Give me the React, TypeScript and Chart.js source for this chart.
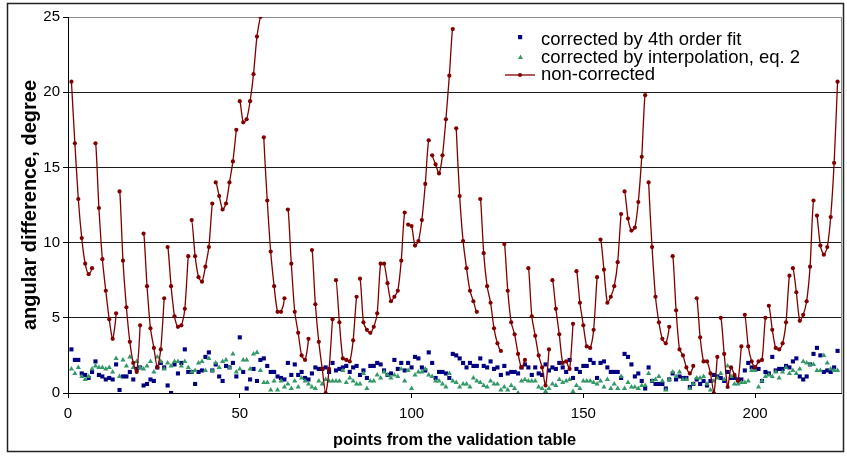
import React, { useEffect, useRef } from "react";
import { Chart, registerables } from "chart.js";

Chart.register(...registerables);

const FONT = "'Liberation Sans', Arial, sans-serif";
const RED = "#800000";
const BLUE = "#000080";
const GREEN = "#339966";

// points are measured in sweeps of 7; the non-corrected line is broken between sweeps
const SWEEP_SIZE = 7;

const seriesLabels = [
  "corrected by 4th order fit",
  "corrected by interpolation, eq. 2",
  "non-corrected",
];

const xTickValues = [0, 50, 100, 150, 200];
const yTickValues = [0, 5, 10, 15, 20, 25];

const nonCorrected = [
  20.7, 16.6, 12.9, 10.3, 8.6, 7.9, 8.3,
  16.6, 12.3, 8.9, 6.8, 4.9, 3.6, 5.3,
  13.4, 8.8, 5.7, 3.4, 2.0, 1.4, 4.5,
  10.6, 7.1, 4.3, 3.0, 1.7, 2.9, 6.3,
  9.7, 7.1, 5.1, 4.4, 4.5, 5.6, 9.1,
  11.5, 9.1, 7.7, 7.4, 8.4, 9.7, 12.6,
  14.0, 13.1, 12.2, 12.6, 14.0, 15.4, 17.5,
  19.4, 18.0, 18.2, 19.4, 21.2, 23.7, 25.0,
  17.0, 12.8, 9.4, 7.1, 5.4, 5.4, 6.3,
  12.2, 8.6, 5.4, 4.0, 2.5, 2.2, 3.6,
  9.5, 5.9, 3.4, 1.6, 0.0, 1.6, 4.9,
  7.5, 4.7, 2.3, 2.2, 2.1, 3.5, 6.4,
  7.6, 4.7, 4.2, 4.0, 4.4, 5.3, 8.6,
  8.6, 7.3, 6.1, 6.4, 6.8, 8.8, 12.0,
  11.2, 11.1, 9.8, 10.1, 11.5, 13.9, 16.8,
  15.8, 15.2, 14.6, 15.8, 18.2, 21.1, 24.2,
  17.6, 13.1, 10.1, 8.3, 6.8, 6.1, 5.4,
  12.9, 9.3, 7.1, 6.0, 4.3, 3.3, 2.8,
  9.9, 6.8, 4.7, 3.9, 2.6, 1.7, 2.2,
  8.3, 5.1, 3.8, 2.5, 1.7, 0.5, 2.9,
  7.5, 5.6, 3.9, 2.0, 2.1, 1.6, 4.6,
  8.1, 6.0, 4.5, 3.1, 3.0, 4.2, 7.7,
  10.2, 8.2, 6.0, 6.4, 7.1, 8.7, 11.9,
  13.4, 11.6, 10.8, 11.0, 12.7, 15.7, 19.8,
  14.0, 9.7, 6.4, 4.7, 3.6, 3.3, 4.4,
  9.1, 5.5, 2.9, 2.5, 1.7, 1.3, 1.8,
  6.3, 3.7, 2.1, 2.1, 1.3, 0.0, 2.4,
  5.0, 2.6, 0.4, 1.7, 1.2, 0.8, 3.1,
  5.2, 3.1, 2.1, 1.7, 2.1, 2.2, 5.0,
  5.8, 4.2, 3.0, 2.9, 3.3, 4.7, 7.8,
  8.3, 6.7, 4.8, 5.2, 6.1, 8.4, 12.8,
  11.8, 9.8, 9.2, 9.7, 11.7, 15.3, 20.7,
];

const fourthOrderFit = [
  2.9, 2.2, 2.2, 1.3, 1.2, 1.0, 1.4, 2.1, 1.2, 1.1,
  0.9, 1.0, 0.9, 1.9, 0.2, 1.1, 1.1, 1.4, 0.9, 1.6,
  1.7, 0.5, 0.6, 0.9, 0.8, 1.7, 2.0, 1.7, 0.5, 0.0,
  1.9, 1.3, 2.0, 2.9, 1.4, 1.4, 0.6, 1.4, 1.5, 2.4,
  2.7, 1.5, 1.9, 1.1, 0.8, 1.8, 1.7, 2.0, 1.1, 3.7,
  1.4, 0.3, 0.9, 1.6, 0.8, 2.2, 2.3, 1.8, 1.4, 1.4,
  1.1, 1.0, 0.9, 2.0, 1.2, 1.9, 1.2, 1.4, 1.0, 0.9,
  1.3, 1.7, 1.6, 1.6, 1.7, 1.4, 2.0, 1.5, 1.6, 1.7,
  1.8, 1.4, 1.7, 1.8, 1.2, 1.5, 1.0, 1.8, 1.8, 2.0,
  1.9, 1.5, 1.2, 1.3, 2.2, 1.6, 2.0, 1.5, 2.0, 1.7,
  2.4, 2.3, 1.7, 1.5, 2.7, 2.0, 1.0, 1.4, 1.4, 1.3,
  1.0, 2.6, 2.5, 2.3, 2.0, 1.7, 2.0, 1.8, 1.8, 2.3,
  1.8, 1.7, 2.1, 1.6, 1.7, 1.2, 1.8, 1.3, 1.4, 1.4,
  1.3, 1.7, 1.9, 1.7, 1.2, 1.7, 1.3, 1.2, 1.9, 1.5,
  1.7, 1.6, 2.0, 1.7, 1.4, 2.2, 1.0, 1.6, 1.4, 1.8,
  1.8, 2.2, 2.0, 1.0, 2.0, 2.1, 1.7, 1.4, 1.4, 1.4,
  1.0, 2.6, 2.4, 1.9, 1.1, 1.3, 0.8, 0.3, 1.7, 0.8,
  0.6, 0.6, 0.6, 0.3, 0.9, 1.3, 0.9, 1.1, 1.0, 1.0,
  0.4, 0.6, 0.9, 0.6, 0.8, 0.5, 0.8, 1.2, 1.1, 1.0,
  0.8, 1.4, 1.0, 1.0, 0.9, 0.9, 1.5, 2.0, 1.7, 1.7,
  1.6, 0.8, 1.4, 1.3, 2.4, 1.5, 1.6, 1.6, 1.8, 1.7,
  2.1, 2.3, 1.1, 0.9, 1.1, 1.9, 2.6, 3.0, 2.5, 1.4,
  1.5, 1.4, 1.7, 2.8,
];

const interpolation = [
  1.6, 1.3, 1.7, 1.1, 0.9, 1.1, 1.6, 1.8, 1.7, 1.7,
  1.6, 1.7, 1.4, 2.3, 1.1, 2.2, 1.8, 2.4, 1.7, 2.1,
  1.7, 1.6, 1.8, 2.1, 1.4, 2.4, 2.1, 1.6, 2.0, 1.8,
  2.1, 2.1, 1.8, 2.1, 1.7, 1.4, 1.5, 2.0, 2.1, 1.5,
  2.3, 1.5, 2.0, 1.7, 2.1, 2.2, 1.7, 2.6, 1.4, 1.6,
  2.2, 2.2, 1.6, 2.6, 2.7, 1.5, 0.7, 0.7, 0.2, 0.8,
  0.2, 0.8, 0.4, 0.6, 0.3, 0.8, 0.4, 1.0, 0.8, 0.6,
  0.4, 0.3, 0.8, 0.6, 0.9, 0.8, 0.8, 0.8, 0.8, 1.5,
  0.7, 1.0, 0.8, 0.6, 0.6, 1.3, 0.3, 0.8, 0.8, 1.2,
  1.0, 1.4, 1.2, 1.0, 1.2, 1.1, 1.6, 0.8, 1.5, 0.3,
  1.2, 1.4, 1.4, 1.6, 1.2, 1.1, 0.8, 0.8, 0.6, 0.4,
  1.3, 0.8, 0.7, 0.4, 0.6, 0.6, 0.4, 1.0, 0.8, 0.7,
  0.5, 0.4, 0.8, 0.6, 0.6, 0.2, 0.4, 0.2, 0.5, 0.3,
  0.0, 0.8, 0.9, 0.8, 0.8, 0.8, 0.4, 0.3, 0.1, 0.3,
  0.6, 0.5, 0.9, 0.7, 0.8, 0.9, 0.1, 0.5, 0.3, 0.8,
  0.8, 0.8, 0.7, 0.6, 0.8, 0.4, 0.9, 0.3, 0.6, 0.3,
  1.1, 0.3, 0.7, 0.4, 0.4, 0.3, 0.5, 0.5, 1.3, 0.8,
  0.9, 1.1, 0.8, 0.2, 0.9, 1.4, 1.1, 1.4, 0.9, 0.9,
  0.3, 0.6, 1.0, 1.0, 1.1, 0.6, 0.2, 0.8, 1.0, 1.3,
  0.9, 1.8, 1.1, 0.6, 0.6, 0.7, 0.7, 0.8, 1.5, 1.5,
  0.4, 0.8, 1.1, 1.2, 1.1, 1.4, 1.0, 1.4, 1.7, 1.3,
  1.5, 1.3, 1.6, 2.1, 2.0, 1.9, 1.9, 1.5, 1.5, 2.5,
  2.0, 1.6, 1.5, 1.5,
];

// validation table point numbers: 1, 2, 3, ...
const toPoints = (values: number[]) => values.map((y, i) => ({ x: i + 1, y }));

const decorPlugin = {
  id: "decor",
  afterDraw(chart: any) {
    const { ctx, chartArea: a } = chart;
    ctx.save();
    // plot-area right border
    ctx.strokeStyle = "#8c8c8c";
    ctx.lineWidth = 1;
    ctx.beginPath();
    ctx.moveTo(Math.round(a.right) + 0.5, a.top);
    ctx.lineTo(Math.round(a.right) + 0.5, a.bottom);
    ctx.stroke();

    // outer chart frame
    ctx.strokeStyle = "#222";
    ctx.lineWidth = 1.5;
    ctx.strokeRect(7.5, 3.5, 836, 448);

    // legend
    const mx = 520;
    const tx = 541;
    const textRows = [39.5, 57.5, 75];
    const markRows = [37, 57, 75];
    ctx.font = `18.5px ${FONT}`;
    ctx.textBaseline = "middle";
    ctx.textAlign = "left";
    // blue square
    ctx.fillStyle = BLUE;
    ctx.fillRect(mx - 2, markRows[0] - 2, 4.2, 4.2);
    // green triangle
    ctx.fillStyle = GREEN;
    ctx.beginPath();
    ctx.moveTo(mx + 0.5, markRows[1] - 2.5);
    ctx.lineTo(mx + 3, markRows[1] + 2);
    ctx.lineTo(mx - 2, markRows[1] + 2);
    ctx.closePath();
    ctx.fill();
    // red line with dot
    ctx.strokeStyle = RED;
    ctx.lineWidth = 1.3;
    ctx.beginPath();
    ctx.moveTo(505, markRows[2]);
    ctx.lineTo(535, markRows[2]);
    ctx.stroke();
    ctx.fillStyle = RED;
    ctx.beginPath();
    ctx.arc(mx, markRows[2], 2.1, 0, Math.PI * 2);
    ctx.fill();

    ctx.fillStyle = "#000";
    seriesLabels.forEach((t, i) => ctx.fillText(t, tx, textRows[i]));
    ctx.restore();
  },
};

export default function App() {
  const ref = useRef<HTMLCanvasElement | null>(null);

  useEffect(() => {
    if (!ref.current) return;
    const chart = new Chart(ref.current, {
      type: "scatter",
      data: {
        datasets: [
          {
            label: seriesLabels[2],
            data: toPoints(nonCorrected),
            showLine: true,
            borderColor: RED,
            backgroundColor: RED,
            borderWidth: 1.3,
            tension: 0.25,
            pointRadius: 2.1,
            pointBorderWidth: 0,
            pointBackgroundColor: RED,
            order: 0,
            segment: {
              borderColor: (ctx: any) =>
                ctx.p1DataIndex % SWEEP_SIZE === 0 ? "rgba(0,0,0,0)" : RED,
            },
          } as any,
          {
            label: seriesLabels[1],
            data: toPoints(interpolation),
            pointStyle: "triangle",
            pointRadius: 3,
            pointBorderWidth: 0,
            pointBackgroundColor: GREEN,
            borderColor: GREEN,
            backgroundColor: GREEN,
            order: 1,
          },
          {
            label: seriesLabels[0],
            data: toPoints(fourthOrderFit),
            pointStyle: "rect",
            pointRadius: 2.9,
            pointBorderWidth: 0,
            pointBackgroundColor: BLUE,
            borderColor: BLUE,
            backgroundColor: BLUE,
            order: 2,
          },
        ],
      },
      options: {
        responsive: false,
        animation: false,
        events: [],
        layout: { padding: { left: 8, right: 6, top: 17, bottom: 0 } },
        plugins: {
          legend: { display: false },
          tooltip: { enabled: false },
        },
        scales: {
          x: {
            type: "linear",
            min: 0,
            max: 225,
            afterFit: (s: any) => {
              s.height = 65;
            },
            afterBuildTicks: (s: any) => {
              s.ticks = xTickValues.map((v) => ({ value: v }));
            },
            ticks: {
              stepSize: 50,
              includeBounds: false,
              color: "#000",
              maxRotation: 0,
              padding: 7,
              font: { family: FONT, size: 15 },
            },
            grid: {
              drawOnChartArea: false,
              drawTicks: true,
              tickLength: 5,
              tickColor: "#000",
              color: "#000",
            },
            border: { color: "#000", width: 1 },
            title: {
              display: true,
              text: "points from the validation table",
              color: "#000",
              font: { family: FONT, size: 16.4, weight: "bold" },
              padding: { top: 0, bottom: 8 },
            },
          },
          y: {
            min: 0,
            max: 25,
            afterFit: (s: any) => {
              s.width = 60;
            },
            afterBuildTicks: (s: any) => {
              s.ticks = yTickValues.map((v) => ({ value: v }));
            },
            ticks: {
              stepSize: 5,
              color: "#000",
              padding: 3,
              font: { family: FONT, size: 15 },
            },
            grid: {
              color: (ctx: any) =>
                ctx.tick && ctx.tick.value === 25 ? "#8c8c8c" : "#1a1a1a",
              lineWidth: 1,
              tickLength: 5,
              tickColor: "#000",
            },
            border: { color: "#000", width: 1 },
            title: {
              display: true,
              text: "angular difference, degree",
              color: "#000",
              font: { family: FONT, size: 20, weight: "bold" },
              padding: { top: 10, bottom: 0 },
            },
          },
        },
      } as any,
      plugins: [decorPlugin],
    });
    return () => chart.destroy();
  }, []);

  return (
    <div
      style={{
        position: "absolute",
        left: 0,
        top: 0,
        width: 847,
        height: 458,
        background: "#fff",
      }}
    >
      <canvas
        ref={ref}
        width={847}
        height={458}
        style={{ display: "block", width: 847, height: 458 }}
      />
    </div>
  );
}
